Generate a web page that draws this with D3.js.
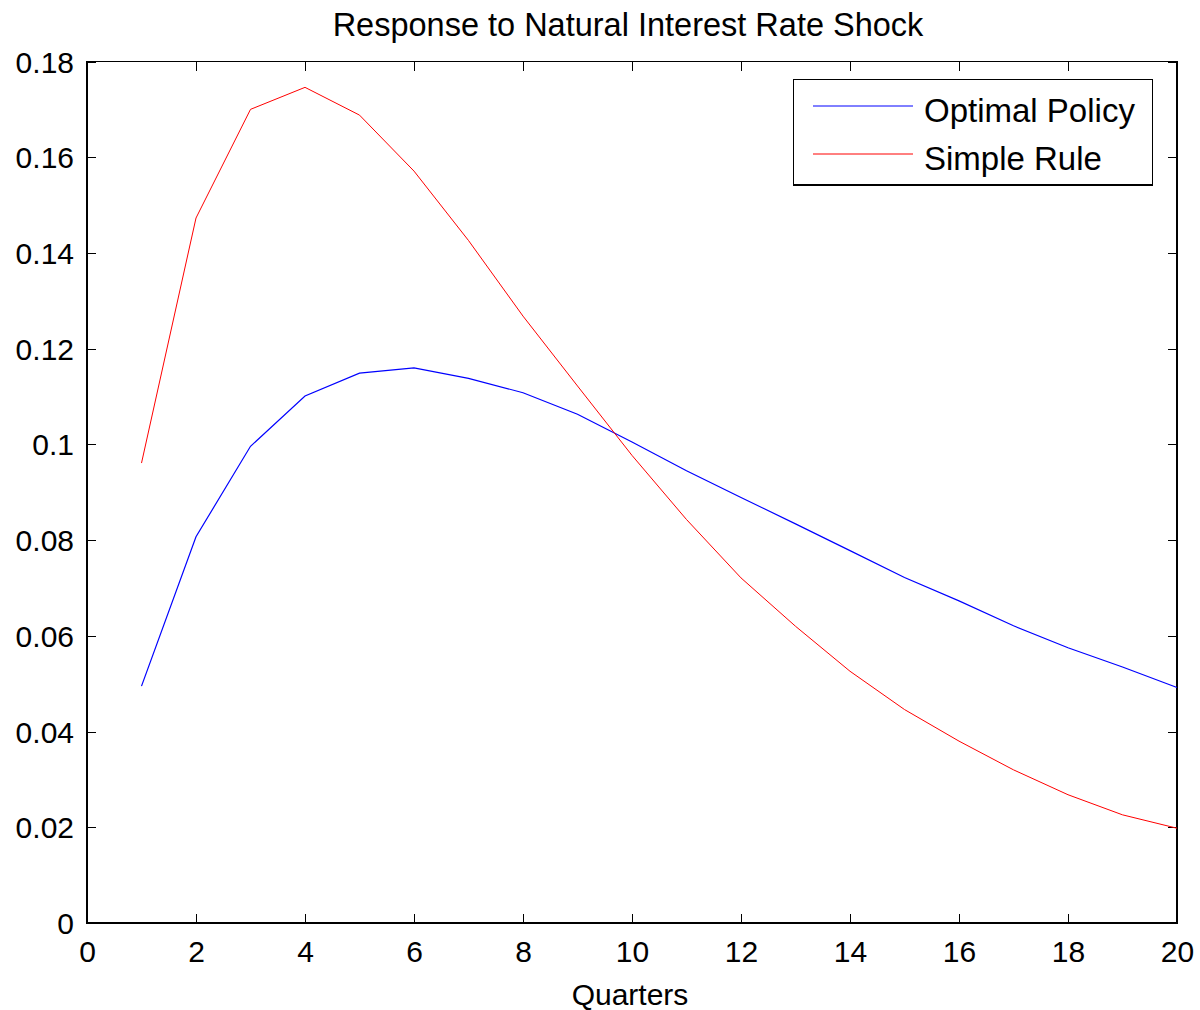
<!DOCTYPE html>
<html>
<head>
<meta charset="utf-8">
<script src="https://cdn.jsdelivr.net/npm/d3@7"></script>
<style>
  body { margin: 0; background: #fff; }
  svg text { font-family: "Liberation Sans", Arial, sans-serif; fill: #000; }
</style>
</head>
<body>
<div id="chart"></div>
<script>
// quarters 1..20
var quarters = d3.range(1, 21);
var optimalPolicy = [0.0495, 0.0807, 0.0996, 0.1101, 0.1149, 0.1160, 0.1138, 0.1108, 0.1063, 0.1005,
                     0.0945, 0.0889, 0.0834, 0.0778, 0.0722, 0.0673, 0.0621, 0.0575, 0.0535, 0.0492];
var simpleRule = [0.0961, 0.1473, 0.1700, 0.1746, 0.1688, 0.1571, 0.1426, 0.1268, 0.1122, 0.0977,
                  0.0843, 0.0721, 0.0620, 0.0526, 0.0446, 0.0380, 0.0320, 0.0268, 0.0226, 0.0198];
var xTicks = [0, 2, 4, 6, 8, 10, 12, 14, 16, 18, 20];
var yTicks = [0, 0.02, 0.04, 0.06, 0.08, 0.1, 0.12, 0.14, 0.16, 0.18];
var seriesNames = ["Optimal Policy", "Simple Rule"];
var seriesColors = ["#0000ff", "#ff0000"];

var width = 1200, height = 1010;
var plotLeft = 87, plotRight = 1177, plotTop = 61.5, plotBottom = 923;

var svg = d3.select("#chart").append("svg")
  .attr("width", width)
  .attr("height", height);

var x = d3.scaleLinear().domain([0, 20]).range([plotLeft, plotRight]);
var y = d3.scaleLinear().domain([0, 0.18]).range([plotBottom, plotTop]);

var tickLen = 9;

// inward ticks on all four sides
var xAxisB = d3.axisBottom(x).tickValues(xTicks).tickSizeInner(-tickLen).tickSizeOuter(0).tickFormat(d3.format("d"));
var xAxisT = d3.axisTop(x).tickValues(xTicks).tickSizeInner(-tickLen).tickSizeOuter(0).tickFormat("");
var yAxisL = d3.axisLeft(y).tickValues(yTicks).tickSizeInner(-tickLen).tickSizeOuter(0)
  .tickFormat(function(d) { return String(+d.toFixed(2)); });
var yAxisR = d3.axisRight(y).tickValues(yTicks).tickSizeInner(-tickLen).tickSizeOuter(0).tickFormat("");

var gB = svg.append("g").attr("transform", "translate(0," + plotBottom + ")").call(xAxisB);
var gT = svg.append("g").attr("transform", "translate(0," + plotTop + ")").call(xAxisT);
var gL = svg.append("g").attr("transform", "translate(" + plotLeft + ",0)").call(yAxisL);
var gR = svg.append("g").attr("transform", "translate(" + plotRight + ",0)").call(yAxisR);

[gB, gT, gL, gR].forEach(function(g) {
  g.select(".domain").remove();
  g.selectAll(".tick line").attr("stroke", "#000").attr("stroke-width", 1).attr("shape-rendering", "crispEdges");
  g.selectAll("text").attr("font-family", "Liberation Sans, Arial, sans-serif").attr("font-size", 30).attr("fill", "#000");
});

gB.selectAll("text").attr("y", 0).attr("dy", 0).attr("transform", "translate(0,39)");
gL.selectAll("text").attr("x", -13).attr("dy", "0.35em");

// axes box
svg.append("rect")
  .attr("x", plotLeft).attr("y", plotTop)
  .attr("width", plotRight - plotLeft).attr("height", plotBottom - plotTop)
  .attr("fill", "none").attr("stroke", "#000").attr("stroke-width", 1.2)
  .attr("shape-rendering", "crispEdges");

// lines
var line = d3.line()
  .x(function(d, i) { return x(quarters[i]); })
  .y(function(d) { return y(d); });

[optimalPolicy, simpleRule].forEach(function(s, i) {
  svg.append("path")
    .datum(s)
    .attr("fill", "none")
    .attr("stroke", seriesColors[i])
    .attr("stroke-width", i === 0 ? 1.2 : 1)
    .attr("d", line);
});

// title and label
svg.append("text")
  .attr("x", 628).attr("y", 35.5)
  .attr("text-anchor", "middle")
  .attr("font-size", 32.5)
  .text("Response to Natural Interest Rate Shock");

svg.append("text")
  .attr("x", (plotLeft + plotRight) / 2 - 2).attr("y", 1005)
  .attr("text-anchor", "middle")
  .attr("font-size", 30)
  .text("Quarters");

// legend
var legend = svg.append("g");
legend.append("rect")
  .attr("x", 793.5).attr("y", 79.5)
  .attr("width", 359).attr("height", 105.5)
  .attr("fill", "#fff").attr("stroke", "#000").attr("stroke-width", 1.2)
  .attr("shape-rendering", "crispEdges");

var legY = [106, 154];
seriesNames.forEach(function(name, i) {
  legend.append("line")
    .attr("x1", 813).attr("x2", 913)
    .attr("y1", legY[i]).attr("y2", legY[i])
    .attr("stroke", seriesColors[i]).attr("stroke-width", 1);
  legend.append("text")
    .attr("x", 924).attr("y", legY[i] + 16)
    .attr("font-size", 33)
    .text(name);
});
</script>
</body>
</html>
